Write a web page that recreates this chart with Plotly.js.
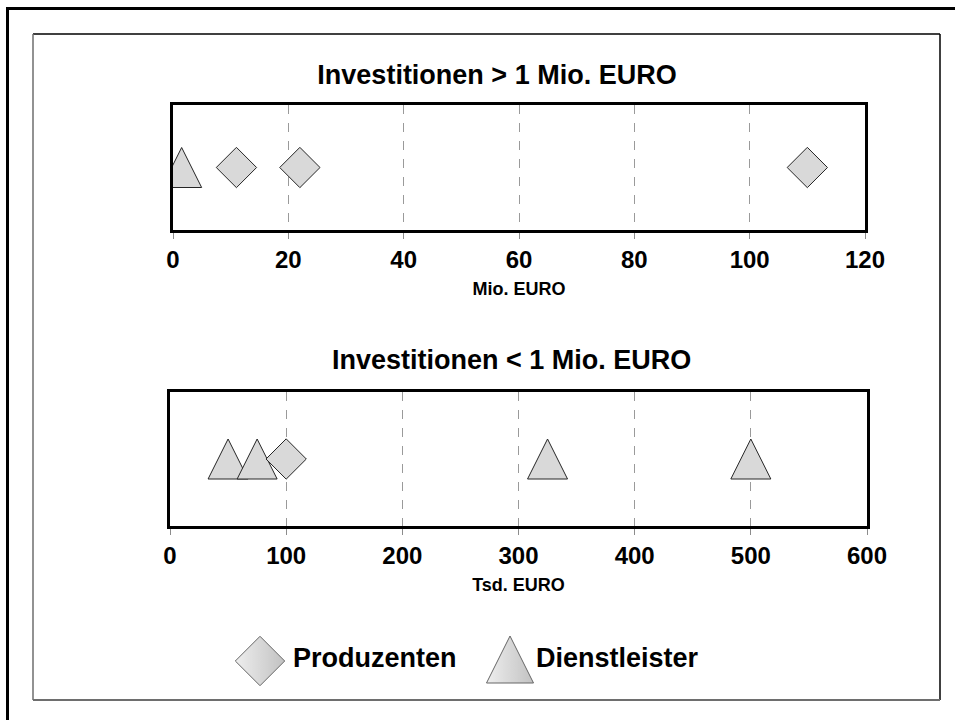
<!DOCTYPE html>
<html><head><meta charset="utf-8">
<script src="https://cdn.plot.ly/plotly-3.0.1.min.js"></script>
<style>html,body{margin:0;padding:0;background:#fff}#chart{width:955px;height:720px}</style>
</head><body><div id="chart"></div>
<script>
// ---- data ----
const seriesNames = ['Produzenten', 'Dienstleister'];
const panelTitles = ['Investitionen > 1 Mio. EURO', 'Investitionen < 1 Mio. EURO'];
const axisTitles = ['Mio. EURO', 'Tsd. EURO'];
const topTicks = [0, 20, 40, 60, 80, 100, 120];
const bottomTicks = [0, 100, 200, 300, 400, 500, 600];
const topProduzenten = [11, 22, 110];
const topDienstleister = [1.5];
const bottomProduzenten = [100];
const bottomDienstleister = [50, 75, 325, 500];

// ---- layout helpers ----
const W = 955, H = 720;
const px = x => x / W, py = y => 1 - y / H;
const FONT = '"Liberation Sans", Arial, Helvetica, sans-serif';
const panels = [
  {x0: 173, x1: 865, y0: 105, y1: 230},
  {x0: 170, x1: 867, y0: 392, y1: 526}
];
const TRI_SHIFT = 20; // px: apex of triangle above row centre
const FILL = '#d9d9d9', EDGE = '#262626';
const zeros = a => a.map(() => 0);

function triRange(p) {
  const h = p.y1 - p.y0;
  const s = TRI_SHIFT / h * 2;
  return [-1 - s, 1 - s];
}

const traces = [
  {type: 'scatter', mode: 'markers', name: seriesNames[1], x: topDienstleister, y: zeros(topDienstleister),
   xaxis: 'x', yaxis: 'y', marker: {symbol: 'arrow-up', size: 40, color: FILL, line: {color: EDGE, width: 1}}, showlegend: false},
  {type: 'scatter', mode: 'markers', name: seriesNames[0], x: topProduzenten, y: zeros(topProduzenten),
   xaxis: 'x', yaxis: 'y3', marker: {symbol: 'diamond', size: 31, color: FILL, line: {color: EDGE, width: 1}}, showlegend: false},
  {type: 'scatter', mode: 'markers', name: seriesNames[1], x: bottomDienstleister, y: zeros(bottomDienstleister),
   xaxis: 'x2', yaxis: 'y2', marker: {symbol: 'arrow-up', size: 40, color: FILL, line: {color: EDGE, width: 1}}, showlegend: false},
  {type: 'scatter', mode: 'markers', name: seriesNames[0], x: bottomProduzenten, y: zeros(bottomProduzenten),
   xaxis: 'x2', yaxis: 'y4', marker: {symbol: 'diamond', size: 31, color: FILL, line: {color: EDGE, width: 1}}, showlegend: false},
  // custom legend (pixel-space axes)
  {type: 'scatter', mode: 'markers', x: [260, 510], y: [661, 636], xaxis: 'x3', yaxis: 'y5', showlegend: false,
   marker: {symbol: ['diamond', 'arrow-up'], size: [38, 47], color: '#e8e8e8',
            gradient: {type: 'horizontal', color: '#a8a8a8'}, line: {color: EDGE, width: 1}}},
  {type: 'scatter', mode: 'text', x: [293, 536], y: [660, 660], xaxis: 'x3', yaxis: 'y5', showlegend: false,
   text: seriesNames, textposition: 'middle right', textfont: {family: FONT, size: 27, weight: 'bold', color: '#000'}}
];

function xAxis(p, ticks, title, anchor) {
  return {
    domain: [px(p.x0), px(p.x1)], range: [ticks[0], ticks[ticks.length - 1]], anchor: anchor,
    tickvals: ticks, ticktext: ticks.map(String), ticks: 'outside', ticklen: 6, tickcolor: '#8c8c8c', tickwidth: 1,
    showline: true, mirror: true, linecolor: '#000', linewidth: 3,
    showgrid: true, gridcolor: '#9a9a9a', gridwidth: 1, griddash: 'dash', zeroline: false,
    tickfont: {family: FONT, size: 24, weight: 'bold', color: '#000'},
    title: {text: title, font: {family: FONT, size: 18, weight: 'bold', color: '#000'}, standoff: 11},
    fixedrange: true
  };
}
function yAxis(p, range, anchor) {
  return {
    domain: [py(p.y1), py(p.y0)], range: range, anchor: anchor,
    showticklabels: false, ticks: '', showgrid: false, zeroline: false,
    showline: true, mirror: true, linecolor: '#000', linewidth: 3, fixedrange: true
  };
}
const hidden = {visible: false, showgrid: false, zeroline: false, fixedrange: true};

const layout = {
  width: W, height: H, margin: {l: 0, r: 0, t: 0, b: 0},
  paper_bgcolor: '#fff', plot_bgcolor: 'rgba(0,0,0,0)', showlegend: false, hovermode: false,
  title: {text: panelTitles[0], x: px(497), xanchor: 'center', y: py(75), yanchor: 'middle',
          font: {family: FONT, size: 27, weight: 'bold', color: '#000'}},
  xaxis: xAxis(panels[0], topTicks, axisTitles[0], 'y'),
  xaxis2: xAxis(panels[1], bottomTicks, axisTitles[1], 'y2'),
  xaxis3: Object.assign({domain: [0, 1], range: [0, W], anchor: 'y5'}, hidden),
  yaxis: yAxis(panels[0], triRange(panels[0]), 'x'),
  yaxis2: yAxis(panels[1], triRange(panels[1]), 'x2'),
  yaxis3: Object.assign({overlaying: 'y', anchor: 'x', range: [-1, 1]}, hidden),
  yaxis4: Object.assign({overlaying: 'y2', anchor: 'x2', range: [-1, 1]}, hidden),
  yaxis5: Object.assign({domain: [0, 1], range: [H, 0], anchor: 'x3'}, hidden),
  annotations: [
    {text: panelTitles[1], xref: 'paper', yref: 'paper', x: px(511), y: py(360), xanchor: 'center', yanchor: 'middle',
     showarrow: false, font: {family: FONT, size: 27, weight: 'bold', color: '#000'}}
  ],
  shapes: [
    // outer frame
    {type: 'rect', xref: 'paper', yref: 'paper', x0: px(7.5), y0: py(8.5), x1: px(1000), y1: py(800),
     line: {color: '#000', width: 3}, fillcolor: 'rgba(0,0,0,0)'},
    // inner frame
    {type: 'line', xref: 'paper', yref: 'paper', x0: px(33), y0: py(34), x1: px(940), y1: py(34), line: {color: '#000', width: 1.5}},
    {type: 'line', xref: 'paper', yref: 'paper', x0: px(940), y0: py(34), x1: px(940), y1: py(700), line: {color: '#000', width: 1.5}},
    {type: 'line', xref: 'paper', yref: 'paper', x0: px(33), y0: py(34), x1: px(33), y1: py(700), line: {color: '#6e6e6e', width: 1.5}},
    {type: 'line', xref: 'paper', yref: 'paper', x0: px(33), y0: py(700), x1: px(940), y1: py(700), line: {color: '#6e6e6e', width: 2}}
  ]
};

Plotly.newPlot('chart', traces, layout, {displayModeBar: false, staticPlot: true});
</script>
</body></html>
